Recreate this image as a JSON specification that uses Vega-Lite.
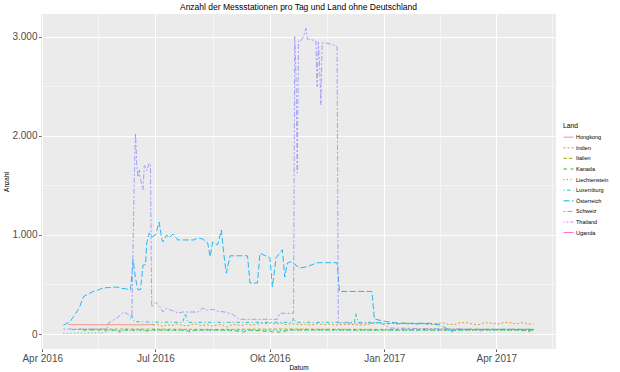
{
  "$schema": "https://vega.github.io/schema/vega-lite/v6.json",
  "width": 515,
  "height": 335,
  "autosize": {"type": "none"},
  "padding": {"left": 41, "top": 14, "right": 64, "bottom": 23},
  "background": "white",
  "config": {
    "font": "Liberation Sans",
    "view": {"fill": "#EBEBEB", "stroke": null},
    "axis": {"domain": false, "labelFont": "Liberation Sans", "titleFont": "Liberation Sans"}
  },
  "title": {"text": "Anzahl der Messstationen pro Tag und Land ohne Deutschland", "fontSize": 8.5, "fontWeight": "normal", "color": "#000000", "anchor": "middle", "offset": 3, "font": "Liberation Sans"},
  "data": {"values": [
    {"Land": "Thailand", "Datum": "2017-04-24", "Anzahl": 45},
    {"Land": "Thailand", "Datum": "2017-05-01", "Anzahl": 45},
    {"Land": "Uganda", "Datum": "2017-04-27", "Anzahl": 44},
    {"Land": "Uganda", "Datum": "2017-05-01", "Anzahl": 44},

    {"Land": "Hongkong", "Datum": "2016-04-22", "Anzahl": 95},
    {"Land": "Hongkong", "Datum": "2016-05-01", "Anzahl": 95},
    {"Land": "Hongkong", "Datum": "2016-05-15", "Anzahl": 93},
    {"Land": "Hongkong", "Datum": "2016-06-01", "Anzahl": 95},
    {"Land": "Hongkong", "Datum": "2016-06-15", "Anzahl": 92},
    {"Land": "Hongkong", "Datum": "2016-06-30", "Anzahl": 95},

    {"Land": "Indien", "Datum": "2016-06-29", "Anzahl": 90},
    {"Land": "Indien", "Datum": "2016-07-03", "Anzahl": 95},
    {"Land": "Indien", "Datum": "2016-07-07", "Anzahl": 75},
    {"Land": "Indien", "Datum": "2016-07-10", "Anzahl": 95},
    {"Land": "Indien", "Datum": "2016-07-14", "Anzahl": 85},
    {"Land": "Indien", "Datum": "2016-07-18", "Anzahl": 100},
    {"Land": "Indien", "Datum": "2016-07-22", "Anzahl": 90},
    {"Land": "Indien", "Datum": "2016-07-26", "Anzahl": 80},
    {"Land": "Indien", "Datum": "2016-07-30", "Anzahl": 95},
    {"Land": "Indien", "Datum": "2016-08-03", "Anzahl": 100},
    {"Land": "Indien", "Datum": "2016-08-07", "Anzahl": 85},
    {"Land": "Indien", "Datum": "2016-08-11", "Anzahl": 95},
    {"Land": "Indien", "Datum": "2016-08-15", "Anzahl": 80},
    {"Land": "Indien", "Datum": "2016-08-19", "Anzahl": 90},
    {"Land": "Indien", "Datum": "2016-08-23", "Anzahl": 95},
    {"Land": "Indien", "Datum": "2016-08-27", "Anzahl": 70},
    {"Land": "Indien", "Datum": "2016-08-31", "Anzahl": 90},
    {"Land": "Indien", "Datum": "2016-09-04", "Anzahl": 95},
    {"Land": "Indien", "Datum": "2016-09-08", "Anzahl": 85},
    {"Land": "Indien", "Datum": "2016-09-12", "Anzahl": 100},
    {"Land": "Indien", "Datum": "2016-09-16", "Anzahl": 90},
    {"Land": "Indien", "Datum": "2016-09-20", "Anzahl": 95},
    {"Land": "Indien", "Datum": "2016-09-24", "Anzahl": 110},
    {"Land": "Indien", "Datum": "2016-09-28", "Anzahl": 105},
    {"Land": "Indien", "Datum": "2016-10-02", "Anzahl": 110},
    {"Land": "Indien", "Datum": "2016-10-06", "Anzahl": 100},
    {"Land": "Indien", "Datum": "2016-10-10", "Anzahl": 110},
    {"Land": "Indien", "Datum": "2016-10-14", "Anzahl": 95},
    {"Land": "Indien", "Datum": "2016-10-18", "Anzahl": 105},
    {"Land": "Indien", "Datum": "2016-10-22", "Anzahl": 100},
    {"Land": "Indien", "Datum": "2016-10-26", "Anzahl": 95},
    {"Land": "Indien", "Datum": "2016-10-30", "Anzahl": 100},
    {"Land": "Indien", "Datum": "2016-11-03", "Anzahl": 90},
    {"Land": "Indien", "Datum": "2016-11-08", "Anzahl": 105},
    {"Land": "Indien", "Datum": "2016-11-13", "Anzahl": 95},
    {"Land": "Indien", "Datum": "2016-11-18", "Anzahl": 100},
    {"Land": "Indien", "Datum": "2016-11-23", "Anzahl": 90},
    {"Land": "Indien", "Datum": "2016-11-28", "Anzahl": 95},
    {"Land": "Indien", "Datum": "2016-12-03", "Anzahl": 100},
    {"Land": "Indien", "Datum": "2016-12-08", "Anzahl": 95},
    {"Land": "Indien", "Datum": "2016-12-13", "Anzahl": 90},
    {"Land": "Indien", "Datum": "2016-12-18", "Anzahl": 95},
    {"Land": "Indien", "Datum": "2016-12-23", "Anzahl": 110},
    {"Land": "Indien", "Datum": "2016-12-28", "Anzahl": 115},
    {"Land": "Indien", "Datum": "2017-01-02", "Anzahl": 105},
    {"Land": "Indien", "Datum": "2017-01-07", "Anzahl": 110},
    {"Land": "Indien", "Datum": "2017-01-12", "Anzahl": 100},
    {"Land": "Indien", "Datum": "2017-01-17", "Anzahl": 115},
    {"Land": "Indien", "Datum": "2017-01-22", "Anzahl": 105},
    {"Land": "Indien", "Datum": "2017-01-27", "Anzahl": 100},
    {"Land": "Indien", "Datum": "2017-02-01", "Anzahl": 110},
    {"Land": "Indien", "Datum": "2017-02-06", "Anzahl": 100},
    {"Land": "Indien", "Datum": "2017-02-11", "Anzahl": 95},
    {"Land": "Indien", "Datum": "2017-02-16", "Anzahl": 115},
    {"Land": "Indien", "Datum": "2017-02-21", "Anzahl": 100},
    {"Land": "Indien", "Datum": "2017-02-26", "Anzahl": 95},
    {"Land": "Indien", "Datum": "2017-03-03", "Anzahl": 115},
    {"Land": "Indien", "Datum": "2017-03-08", "Anzahl": 115},
    {"Land": "Indien", "Datum": "2017-03-13", "Anzahl": 100},
    {"Land": "Indien", "Datum": "2017-03-18", "Anzahl": 95},
    {"Land": "Indien", "Datum": "2017-03-23", "Anzahl": 115},
    {"Land": "Indien", "Datum": "2017-03-28", "Anzahl": 110},
    {"Land": "Indien", "Datum": "2017-04-02", "Anzahl": 100},
    {"Land": "Indien", "Datum": "2017-04-07", "Anzahl": 115},
    {"Land": "Indien", "Datum": "2017-04-12", "Anzahl": 115},
    {"Land": "Indien", "Datum": "2017-04-17", "Anzahl": 100},
    {"Land": "Indien", "Datum": "2017-04-22", "Anzahl": 115},
    {"Land": "Indien", "Datum": "2017-04-27", "Anzahl": 100},
    {"Land": "Indien", "Datum": "2017-05-01", "Anzahl": 105},

    {"Land": "Italien", "Datum": "2016-04-25", "Anzahl": 45},
    {"Land": "Italien", "Datum": "2016-05-15", "Anzahl": 48},
    {"Land": "Italien", "Datum": "2016-06-15", "Anzahl": 50},
    {"Land": "Italien", "Datum": "2016-07-15", "Anzahl": 48},
    {"Land": "Italien", "Datum": "2016-08-15", "Anzahl": 46},
    {"Land": "Italien", "Datum": "2016-09-15", "Anzahl": 48},
    {"Land": "Italien", "Datum": "2016-10-15", "Anzahl": 50},
    {"Land": "Italien", "Datum": "2016-11-15", "Anzahl": 48},
    {"Land": "Italien", "Datum": "2016-12-15", "Anzahl": 47},
    {"Land": "Italien", "Datum": "2017-01-15", "Anzahl": 47},
    {"Land": "Italien", "Datum": "2017-02-15", "Anzahl": 48},
    {"Land": "Italien", "Datum": "2017-03-15", "Anzahl": 47},
    {"Land": "Italien", "Datum": "2017-04-15", "Anzahl": 47},
    {"Land": "Italien", "Datum": "2017-05-01", "Anzahl": 46},

    {"Land": "Kanada", "Datum": "2016-05-04", "Anzahl": 40},
    {"Land": "Kanada", "Datum": "2016-05-20", "Anzahl": 40},
    {"Land": "Kanada", "Datum": "2016-05-30", "Anzahl": 38},
    {"Land": "Kanada", "Datum": "2016-06-02", "Anzahl": 20},
    {"Land": "Kanada", "Datum": "2016-06-05", "Anzahl": 40},
    {"Land": "Kanada", "Datum": "2016-06-20", "Anzahl": 42},
    {"Land": "Kanada", "Datum": "2016-06-25", "Anzahl": 30},
    {"Land": "Kanada", "Datum": "2016-06-28", "Anzahl": 42},
    {"Land": "Kanada", "Datum": "2016-07-10", "Anzahl": 40},
    {"Land": "Kanada", "Datum": "2016-07-25", "Anzahl": 40},
    {"Land": "Kanada", "Datum": "2016-07-29", "Anzahl": 20},
    {"Land": "Kanada", "Datum": "2016-08-02", "Anzahl": 40},
    {"Land": "Kanada", "Datum": "2016-08-20", "Anzahl": 42},
    {"Land": "Kanada", "Datum": "2016-08-30", "Anzahl": 38},
    {"Land": "Kanada", "Datum": "2016-09-10", "Anzahl": 20},
    {"Land": "Kanada", "Datum": "2016-09-15", "Anzahl": 40},
    {"Land": "Kanada", "Datum": "2016-09-25", "Anzahl": 30},
    {"Land": "Kanada", "Datum": "2016-10-05", "Anzahl": 20},
    {"Land": "Kanada", "Datum": "2016-10-12", "Anzahl": 20},
    {"Land": "Kanada", "Datum": "2016-10-15", "Anzahl": 42},
    {"Land": "Kanada", "Datum": "2016-11-20", "Anzahl": 42},
    {"Land": "Kanada", "Datum": "2016-12-20", "Anzahl": 40},
    {"Land": "Kanada", "Datum": "2017-01-20", "Anzahl": 40},
    {"Land": "Kanada", "Datum": "2017-02-20", "Anzahl": 40},
    {"Land": "Kanada", "Datum": "2017-03-20", "Anzahl": 42},
    {"Land": "Kanada", "Datum": "2017-04-20", "Anzahl": 40},
    {"Land": "Kanada", "Datum": "2017-04-27", "Anzahl": 25},
    {"Land": "Kanada", "Datum": "2017-05-01", "Anzahl": 45},

    {"Land": "Liechtenstein", "Datum": "2016-04-18", "Anzahl": 8},
    {"Land": "Liechtenstein", "Datum": "2016-05-10", "Anzahl": 10},
    {"Land": "Liechtenstein", "Datum": "2016-05-20", "Anzahl": 12},
    {"Land": "Liechtenstein", "Datum": "2016-05-25", "Anzahl": 35},
    {"Land": "Liechtenstein", "Datum": "2016-08-15", "Anzahl": 35},
    {"Land": "Liechtenstein", "Datum": "2016-11-15", "Anzahl": 36},
    {"Land": "Liechtenstein", "Datum": "2017-02-15", "Anzahl": 35},
    {"Land": "Liechtenstein", "Datum": "2017-05-01", "Anzahl": 35},

    {"Land": "Luxemburg", "Datum": "2016-06-11", "Anzahl": 150},
    {"Land": "Luxemburg", "Datum": "2016-06-12", "Anzahl": 190},
    {"Land": "Luxemburg", "Datum": "2016-06-14", "Anzahl": 125},
    {"Land": "Luxemburg", "Datum": "2016-07-01", "Anzahl": 120},
    {"Land": "Luxemburg", "Datum": "2016-07-23", "Anzahl": 118},
    {"Land": "Luxemburg", "Datum": "2016-07-25", "Anzahl": 210},
    {"Land": "Luxemburg", "Datum": "2016-07-27", "Anzahl": 118},
    {"Land": "Luxemburg", "Datum": "2016-10-19", "Anzahl": 118},
    {"Land": "Luxemburg", "Datum": "2016-10-20", "Anzahl": 160},
    {"Land": "Luxemburg", "Datum": "2016-10-22", "Anzahl": 118},
    {"Land": "Luxemburg", "Datum": "2016-12-08", "Anzahl": 118},
    {"Land": "Luxemburg", "Datum": "2016-12-09", "Anzahl": 210},
    {"Land": "Luxemburg", "Datum": "2016-12-11", "Anzahl": 118},
    {"Land": "Luxemburg", "Datum": "2016-12-27", "Anzahl": 118},
    {"Land": "Luxemburg", "Datum": "2017-01-02", "Anzahl": 105},
    {"Land": "Luxemburg", "Datum": "2017-02-15", "Anzahl": 100},

    {"Land": "Österreich", "Datum": "2016-04-18", "Anzahl": 90},
    {"Land": "Österreich", "Datum": "2016-04-23", "Anzahl": 120},
    {"Land": "Österreich", "Datum": "2016-04-27", "Anzahl": 190},
    {"Land": "Österreich", "Datum": "2016-05-01", "Anzahl": 270},
    {"Land": "Österreich", "Datum": "2016-05-04", "Anzahl": 375},
    {"Land": "Österreich", "Datum": "2016-05-11", "Anzahl": 425},
    {"Land": "Österreich", "Datum": "2016-05-15", "Anzahl": 440},
    {"Land": "Österreich", "Datum": "2016-05-20", "Anzahl": 465},
    {"Land": "Österreich", "Datum": "2016-05-26", "Anzahl": 470},
    {"Land": "Österreich", "Datum": "2016-05-31", "Anzahl": 475},
    {"Land": "Österreich", "Datum": "2016-06-04", "Anzahl": 460},
    {"Land": "Österreich", "Datum": "2016-06-08", "Anzahl": 455},
    {"Land": "Österreich", "Datum": "2016-06-11", "Anzahl": 445},
    {"Land": "Österreich", "Datum": "2016-06-13", "Anzahl": 750},
    {"Land": "Österreich", "Datum": "2016-06-15", "Anzahl": 560},
    {"Land": "Österreich", "Datum": "2016-06-17", "Anzahl": 445},
    {"Land": "Österreich", "Datum": "2016-06-19", "Anzahl": 450},
    {"Land": "Österreich", "Datum": "2016-06-21", "Anzahl": 697},
    {"Land": "Österreich", "Datum": "2016-06-23", "Anzahl": 700},
    {"Land": "Österreich", "Datum": "2016-06-24", "Anzahl": 920},
    {"Land": "Österreich", "Datum": "2016-06-26", "Anzahl": 1020},
    {"Land": "Österreich", "Datum": "2016-06-28", "Anzahl": 980},
    {"Land": "Österreich", "Datum": "2016-07-01", "Anzahl": 1000},
    {"Land": "Österreich", "Datum": "2016-07-04", "Anzahl": 1130},
    {"Land": "Österreich", "Datum": "2016-07-06", "Anzahl": 960},
    {"Land": "Österreich", "Datum": "2016-07-07", "Anzahl": 930},
    {"Land": "Österreich", "Datum": "2016-07-10", "Anzahl": 1000},
    {"Land": "Österreich", "Datum": "2016-07-12", "Anzahl": 970},
    {"Land": "Österreich", "Datum": "2016-07-15", "Anzahl": 1010},
    {"Land": "Österreich", "Datum": "2016-07-19", "Anzahl": 950},
    {"Land": "Österreich", "Datum": "2016-08-01", "Anzahl": 950},
    {"Land": "Österreich", "Datum": "2016-08-04", "Anzahl": 970},
    {"Land": "Österreich", "Datum": "2016-08-08", "Anzahl": 960},
    {"Land": "Österreich", "Datum": "2016-08-12", "Anzahl": 920},
    {"Land": "Österreich", "Datum": "2016-08-14", "Anzahl": 780},
    {"Land": "Österreich", "Datum": "2016-08-16", "Anzahl": 930},
    {"Land": "Österreich", "Datum": "2016-08-20", "Anzahl": 900},
    {"Land": "Österreich", "Datum": "2016-08-23", "Anzahl": 1050},
    {"Land": "Österreich", "Datum": "2016-08-25", "Anzahl": 800},
    {"Land": "Österreich", "Datum": "2016-08-27", "Anzahl": 615},
    {"Land": "Österreich", "Datum": "2016-08-30", "Anzahl": 790},
    {"Land": "Österreich", "Datum": "2016-09-13", "Anzahl": 790},
    {"Land": "Österreich", "Datum": "2016-09-15", "Anzahl": 515},
    {"Land": "Österreich", "Datum": "2016-09-21", "Anzahl": 515},
    {"Land": "Österreich", "Datum": "2016-09-23", "Anzahl": 815},
    {"Land": "Österreich", "Datum": "2016-10-01", "Anzahl": 770},
    {"Land": "Österreich", "Datum": "2016-10-03", "Anzahl": 475},
    {"Land": "Österreich", "Datum": "2016-10-06", "Anzahl": 770},
    {"Land": "Österreich", "Datum": "2016-10-11", "Anzahl": 850},
    {"Land": "Österreich", "Datum": "2016-10-13", "Anzahl": 575},
    {"Land": "Österreich", "Datum": "2016-10-15", "Anzahl": 717},
    {"Land": "Österreich", "Datum": "2016-10-18", "Anzahl": 730},
    {"Land": "Österreich", "Datum": "2016-10-25", "Anzahl": 666},
    {"Land": "Österreich", "Datum": "2016-10-31", "Anzahl": 680},
    {"Land": "Österreich", "Datum": "2016-11-08", "Anzahl": 720},
    {"Land": "Österreich", "Datum": "2016-11-24", "Anzahl": 720},
    {"Land": "Österreich", "Datum": "2016-11-26", "Anzahl": 430},
    {"Land": "Österreich", "Datum": "2016-12-22", "Anzahl": 430},
    {"Land": "Österreich", "Datum": "2016-12-24", "Anzahl": 150},
    {"Land": "Österreich", "Datum": "2017-01-03", "Anzahl": 125},
    {"Land": "Österreich", "Datum": "2017-01-14", "Anzahl": 108},
    {"Land": "Österreich", "Datum": "2017-02-07", "Anzahl": 108},
    {"Land": "Österreich", "Datum": "2017-02-15", "Anzahl": 90},
    {"Land": "Österreich", "Datum": "2017-02-25", "Anzahl": 23},
    {"Land": "Österreich", "Datum": "2017-02-27", "Anzahl": 47},
    {"Land": "Österreich", "Datum": "2017-05-01", "Anzahl": 47},

    {"Land": "Schweiz", "Datum": "2016-04-18", "Anzahl": 50},
    {"Land": "Schweiz", "Datum": "2016-05-23", "Anzahl": 50},
    {"Land": "Schweiz", "Datum": "2016-05-24", "Anzahl": 110},
    {"Land": "Schweiz", "Datum": "2016-05-31", "Anzahl": 160},
    {"Land": "Schweiz", "Datum": "2016-06-05", "Anzahl": 220},
    {"Land": "Schweiz", "Datum": "2016-06-08", "Anzahl": 210},
    {"Land": "Schweiz", "Datum": "2016-06-10", "Anzahl": 180},
    {"Land": "Schweiz", "Datum": "2016-06-12", "Anzahl": 170},
    {"Land": "Schweiz", "Datum": "2016-06-14", "Anzahl": 1600},
    {"Land": "Schweiz", "Datum": "2016-06-15", "Anzahl": 2030},
    {"Land": "Schweiz", "Datum": "2016-06-16", "Anzahl": 1700},
    {"Land": "Schweiz", "Datum": "2016-06-17", "Anzahl": 1585},
    {"Land": "Schweiz", "Datum": "2016-06-18", "Anzahl": 1656},
    {"Land": "Schweiz", "Datum": "2016-06-19", "Anzahl": 1560},
    {"Land": "Schweiz", "Datum": "2016-06-21", "Anzahl": 1455},
    {"Land": "Schweiz", "Datum": "2016-06-22", "Anzahl": 1700},
    {"Land": "Schweiz", "Datum": "2016-06-23", "Anzahl": 1690},
    {"Land": "Schweiz", "Datum": "2016-06-24", "Anzahl": 1650},
    {"Land": "Schweiz", "Datum": "2016-06-26", "Anzahl": 1727},
    {"Land": "Schweiz", "Datum": "2016-06-27", "Anzahl": 1700},
    {"Land": "Schweiz", "Datum": "2016-06-28", "Anzahl": 273},
    {"Land": "Schweiz", "Datum": "2016-07-01", "Anzahl": 320},
    {"Land": "Schweiz", "Datum": "2016-07-02", "Anzahl": 313},
    {"Land": "Schweiz", "Datum": "2016-07-05", "Anzahl": 270},
    {"Land": "Schweiz", "Datum": "2016-07-07", "Anzahl": 222},
    {"Land": "Schweiz", "Datum": "2016-07-10", "Anzahl": 260},
    {"Land": "Schweiz", "Datum": "2016-07-13", "Anzahl": 242},
    {"Land": "Schweiz", "Datum": "2016-07-16", "Anzahl": 230},
    {"Land": "Schweiz", "Datum": "2016-07-19", "Anzahl": 212},
    {"Land": "Schweiz", "Datum": "2016-07-23", "Anzahl": 222},
    {"Land": "Schweiz", "Datum": "2016-08-04", "Anzahl": 222},
    {"Land": "Schweiz", "Datum": "2016-08-08", "Anzahl": 262},
    {"Land": "Schweiz", "Datum": "2016-08-12", "Anzahl": 240},
    {"Land": "Schweiz", "Datum": "2016-08-16", "Anzahl": 250},
    {"Land": "Schweiz", "Datum": "2016-08-20", "Anzahl": 230},
    {"Land": "Schweiz", "Datum": "2016-08-26", "Anzahl": 222},
    {"Land": "Schweiz", "Datum": "2016-09-01", "Anzahl": 200},
    {"Land": "Schweiz", "Datum": "2016-09-06", "Anzahl": 148},
    {"Land": "Schweiz", "Datum": "2016-10-07", "Anzahl": 148},
    {"Land": "Schweiz", "Datum": "2016-10-09", "Anzahl": 209},
    {"Land": "Schweiz", "Datum": "2016-10-20", "Anzahl": 209},
    {"Land": "Schweiz", "Datum": "2016-10-21", "Anzahl": 3003},
    {"Land": "Schweiz", "Datum": "2016-10-22", "Anzahl": 2600},
    {"Land": "Schweiz", "Datum": "2016-10-23", "Anzahl": 1626},
    {"Land": "Schweiz", "Datum": "2016-10-24", "Anzahl": 2960},
    {"Land": "Schweiz", "Datum": "2016-10-25", "Anzahl": 2950},
    {"Land": "Schweiz", "Datum": "2016-10-27", "Anzahl": 2980},
    {"Land": "Schweiz", "Datum": "2016-10-28", "Anzahl": 3010},
    {"Land": "Schweiz", "Datum": "2016-10-30", "Anzahl": 3088},
    {"Land": "Schweiz", "Datum": "2016-10-31", "Anzahl": 2980},
    {"Land": "Schweiz", "Datum": "2016-11-04", "Anzahl": 2970},
    {"Land": "Schweiz", "Datum": "2016-11-07", "Anzahl": 2960},
    {"Land": "Schweiz", "Datum": "2016-11-08", "Anzahl": 2498},
    {"Land": "Schweiz", "Datum": "2016-11-09", "Anzahl": 2950},
    {"Land": "Schweiz", "Datum": "2016-11-10", "Anzahl": 2700},
    {"Land": "Schweiz", "Datum": "2016-11-11", "Anzahl": 2313},
    {"Land": "Schweiz", "Datum": "2016-11-12", "Anzahl": 2940},
    {"Land": "Schweiz", "Datum": "2016-11-15", "Anzahl": 2940},
    {"Land": "Schweiz", "Datum": "2016-11-21", "Anzahl": 2919},
    {"Land": "Schweiz", "Datum": "2016-11-24", "Anzahl": 2902},
    {"Land": "Schweiz", "Datum": "2016-11-25", "Anzahl": 111},
    {"Land": "Schweiz", "Datum": "2016-12-29", "Anzahl": 108},
    {"Land": "Schweiz", "Datum": "2017-01-06", "Anzahl": 60},
    {"Land": "Schweiz", "Datum": "2017-03-19", "Anzahl": 47},
    {"Land": "Schweiz", "Datum": "2017-03-20", "Anzahl": 25},
    {"Land": "Schweiz", "Datum": "2017-03-21", "Anzahl": 47},
    {"Land": "Schweiz", "Datum": "2017-05-01", "Anzahl": 47}
  ]},
  "layer": [
    {
      "mark": {"type": "point", "opacity": 0},
      "encoding": {
        "x": {"field": "Datum", "type": "temporal",
          "scale": {"type": "utc", "domain": [{"year": 2016, "month": 3, "date": 31, "utc": true}, {"year": 2017, "month": 5, "date": 19, "utc": true}]},
          "axis": {"orient": "top", "values": [{"year": 2016, "month": 5, "date": 16, "utc": true}, {"year": 2016, "month": 8, "date": 16, "utc": true}, {"year": 2016, "month": 11, "date": 16, "utc": true}, {"year": 2017, "month": 2, "date": 15, "utc": true}, {"year": 2017, "month": 5, "date": 16, "utc": true}],
            "grid": true, "gridColor": "#FFFFFF", "gridWidth": 0.5, "labels": false, "ticks": false, "domain": false, "title": null}},
        "y": {"field": "Anzahl", "type": "quantitative",
          "scale": {"domain": [-151.5, 3232], "nice": false, "zero": false},
          "axis": {"orient": "right", "values": [500, 1500, 2500], "grid": true, "gridColor": "#FFFFFF", "gridWidth": 0.5, "labels": false, "ticks": false, "domain": false, "title": null}}
      }
    },
    {
      "mark": {"type": "line", "strokeWidth": 0.9, "opacity": 0.95},
      "encoding": {
        "x": {"field": "Datum", "type": "temporal",
          "scale": {"type": "utc", "domain": [{"year": 2016, "month": 3, "date": 31, "utc": true}, {"year": 2017, "month": 5, "date": 19, "utc": true}]},
          "axis": {"orient": "bottom", "title": "Datum", "titleFontSize": 6.5, "titleFontWeight": "normal", "titleColor": "#000000", "titlePadding": 1,
            "values": [{"year": 2016, "month": 4, "date": 1, "utc": true}, {"year": 2016, "month": 7, "date": 1, "utc": true}, {"year": 2016, "month": 10, "date": 1, "utc": true}, {"year": 2017, "month": 1, "date": 1, "utc": true}, {"year": 2017, "month": 4, "date": 1, "utc": true}],
            "labelExpr": "['Jan','Feb','Mär','Apr','Mai','Jun','Jul','Aug','Sep','Okt','Nov','Dez'][utcmonth(datum.value)] + ' ' + utcyear(datum.value)",
            "labelFontSize": 10, "labelColor": "#4D4D4D", "labelPadding": 1.5, "labelFlush": false, "labelOverlap": false,
            "tickColor": "#333333", "tickSize": 2.5, "tickWidth": 0.8,
            "grid": true, "gridColor": "#FFFFFF", "gridWidth": 1, "domain": false}},
        "y": {"field": "Anzahl", "type": "quantitative",
          "scale": {"domain": [-151.5, 3232], "nice": false, "zero": false},
          "axis": {"orient": "left", "title": "Anzahl", "titleFontSize": 6.5, "titleFontWeight": "normal", "titleColor": "#000000", "titlePadding": 2,
            "values": [0, 1000, 2000, 3000],
            "labelExpr": "replace(format(datum.value, ','), ',', '.')",
            "labelFontSize": 10, "labelColor": "#4D4D4D", "labelPadding": 1.5,
            "tickColor": "#333333", "tickSize": 2.5, "tickWidth": 0.8,
            "grid": true, "gridColor": "#FFFFFF", "gridWidth": 1, "domain": false}},
        "color": {"field": "Land", "type": "nominal",
          "scale": {"domain": ["Hongkong", "Indien", "Italien", "Kanada", "Liechtenstein", "Luxemburg", "Österreich", "Schweiz", "Thailand", "Uganda"],
            "range": ["#F8766D", "#D89000", "#A3A500", "#39B600", "#00BF7D", "#00BFC4", "#00B0F6", "#9590FF", "#E76BF3", "#FF62BC"]},
          "legend": {"orient": "none", "legendX": 522, "legendY": 109, "title": "Land", "titleFontSize": 6.7, "titleFontWeight": "normal", "titleColor": "#000000", "titlePadding": 2, "labelFontSize": 5.5, "labelColor": "#000000", "symbolType": "stroke", "symbolSize": 100, "symbolStrokeWidth": 1, "rowPadding": 1.6, "labelOffset": 2, "padding": 0}},
        "strokeDash": {"field": "Land", "type": "nominal",
          "scale": {"domain": ["Hongkong", "Indien", "Italien", "Kanada", "Liechtenstein", "Luxemburg", "Österreich", "Schweiz", "Thailand", "Uganda"],
            "range": [[1, 0], [2, 2], [3.5, 1.8], [3.5, 3.5], [1, 2.5], [1, 2.5, 3.5, 2.5], [6, 2.5], [2, 2, 5, 2], [1, 2, 2, 2, 3, 2, 4, 2], [12, 2, 7, 2]]},
          "legend": {"orient": "none", "legendX": 522, "legendY": 109, "title": "Land", "titleFontSize": 6.7, "titleFontWeight": "normal", "titleColor": "#000000", "titlePadding": 2, "labelFontSize": 5.5, "labelColor": "#000000", "symbolType": "stroke", "symbolSize": 100, "symbolStrokeWidth": 1, "rowPadding": 1.6, "labelOffset": 2, "padding": 0}}
      }
    }
  ],
  "resolve": {"axis": {"x": "independent", "y": "independent"}}
}
